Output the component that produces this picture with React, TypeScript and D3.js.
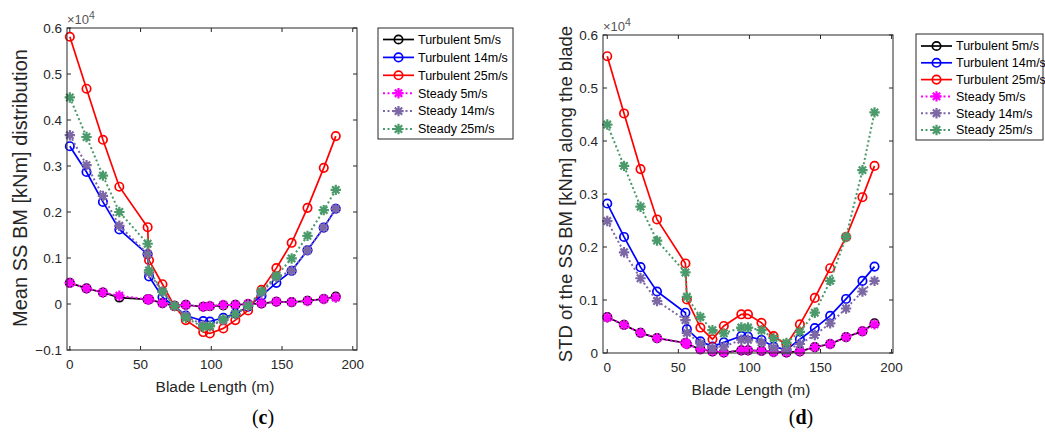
import React from 'react';
import * as d3 from 'd3';

// Blade stations (m)
const bladeX = [0, 11.8, 23.4, 35, 55, 56, 65.5, 74, 82, 94.3, 99, 108.5, 117, 126, 135.5, 146, 156.8, 168, 179.5, 188];

// (c) Mean SS BM (x1e4 kNm)
const meanT5 = [0.046, 0.034, 0.025, 0.014, 0.010, 0.010, 0.002, -0.004, -0.002, -0.006, -0.005, -0.003, -0.002, 0.000, 0.001, 0.005, 0.004, 0.007, 0.011, 0.016];
const meanT14 = [0.343, 0.287, 0.222, 0.162, 0.108, 0.060, 0.015, -0.005, -0.025, -0.037, -0.038, -0.030, -0.021, -0.006, 0.018, 0.046, 0.072, 0.117, 0.166, 0.207];
const meanT25 = [0.581, 0.468, 0.357, 0.255, 0.167, 0.095, 0.043, -0.005, -0.035, -0.061, -0.064, -0.053, -0.035, -0.014, 0.031, 0.078, 0.133, 0.209, 0.296, 0.365];
const meanS5 = [0.046, 0.034, 0.025, 0.018, 0.010, 0.010, 0.002, -0.004, -0.002, -0.006, -0.004, -0.002, -0.002, 0.000, 0.0015, 0.005, 0.004, 0.0065, 0.011, 0.014];
const meanS14 = [0.367, 0.302, 0.235, 0.170, 0.109, 0.068, 0.027, -0.004, -0.026, -0.046, -0.048, -0.035, -0.022, -0.004, 0.025, 0.058, 0.072, 0.117, 0.166, 0.207];
const meanS25 = [0.449, 0.363, 0.279, 0.200, 0.131, 0.073, 0.027, -0.004, -0.030, -0.050, -0.048, -0.033, -0.022, -0.004, 0.028, 0.061, 0.099, 0.148, 0.204, 0.248];

// (d) STD of SS BM (x1e4 kNm)
const stdT5 = [0.068, 0.053, 0.038, 0.028, 0.019, 0.017, 0.007, 0.003, 0.001, 0.005, 0.005, 0.004, 0.002, 0.001, 0.003, 0.011, 0.017, 0.030, 0.041, 0.056];
const stdT14 = [0.282, 0.219, 0.162, 0.116, 0.076, 0.045, 0.022, 0.012, 0.020, 0.032, 0.031, 0.025, 0.012, 0.006, 0.026, 0.047, 0.070, 0.102, 0.136, 0.163];
const stdT25 = [0.560, 0.452, 0.347, 0.252, 0.169, 0.101, 0.048, 0.026, 0.051, 0.073, 0.073, 0.057, 0.032, 0.016, 0.054, 0.104, 0.160, 0.219, 0.294, 0.353];
const stdS5 = [0.067, 0.053, 0.038, 0.028, 0.019, 0.017, 0.007, 0.003, 0.001, 0.005, 0.005, 0.004, 0.002, 0.001, 0.003, 0.011, 0.017, 0.030, 0.041, 0.054];
const stdS14 = [0.249, 0.190, 0.141, 0.098, 0.062, 0.038, 0.018, 0.009, 0.012, 0.025, 0.025, 0.020, 0.010, 0.005, 0.017, 0.034, 0.056, 0.084, 0.116, 0.136];
const stdS25 = [0.431, 0.353, 0.276, 0.212, 0.152, 0.106, 0.068, 0.043, 0.037, 0.048, 0.048, 0.043, 0.028, 0.019, 0.040, 0.076, 0.136, 0.219, 0.345, 0.454];

const seriesNames = ['Turbulent 5m/s', 'Turbulent 14m/s', 'Turbulent 25m/s', 'Steady 5m/s', 'Steady 14m/s', 'Steady 25m/s'];
const seriesColors = ['#000000', '#0000ff', '#ff0000', '#ff00ff', '#7d68a6', '#4b9a6b'];
const seriesKinds = ['turb', 'turb', 'turb', 'steady', 'steady', 'steady'];

const xTicks = [0, 50, 100, 150, 200];
const meanTicks = [-0.1, 0, 0.1, 0.2, 0.3, 0.4, 0.5, 0.6];
const stdTicks = [0, 0.1, 0.2, 0.3, 0.4, 0.5, 0.6];

const AXC = '#262626';
const SANS = 'Arial, "Liberation Sans", Helvetica, sans-serif';

function Marker({ kind, color, x, y }: { kind: string; color: string; x: number; y: number }) {
  if (kind === 'turb') {
    return <circle cx={x} cy={y} r={4.2} fill="none" stroke={color} strokeWidth={1.7} />;
  }
  const r = 5.2;
  const a = r * 0.707;
  const d = `M${-r},0H${r}M0,${-r}V${r}M${-a},${-a}L${a},${a}M${-a},${a}L${a},${-a}`;
  return <path d={d} transform={`translate(${x},${y})`} stroke={color} strokeWidth={2.2} fill="none" />;
}

function Chart(props: {
  left: number; right: number; top: number; bottom: number;
  xDomain: [number, number]; yDomain: [number, number]; yTicks: number[];
  data: number[][]; ylabel: string; ylabelX: number; ylabelY: number; ylabelSize: number;
  tag: string; tagX: number;
  legX: number; legY: number; legW: number; legH: number; legRow0: number; legStep: number;
}) {
  const { left, right, top, bottom } = props;
  const xs = d3.scaleLinear().domain(props.xDomain).range([left, right]);
  const ys = d3.scaleLinear().domain(props.yDomain).range([bottom, top]);
  const tl = 4;
  return (
    <g>
      <rect x={left} y={top} width={right - left} height={bottom - top} fill="#fff" />
      {props.data.map((vals, si) => {
        const pts = vals.map((v, i) => [xs(bladeX[i]), ys(v)] as [number, number]);
        const line = d3.line()(pts) || '';
        const kind = seriesKinds[si];
        return (
          <g key={si}>
            <path d={line} fill="none" stroke={seriesColors[si]} strokeWidth={kind === 'turb' ? 1.7 : 2}
              strokeDasharray={kind === 'turb' ? undefined : '2,2.5'} />
            {pts.map((p, i) => <Marker key={i} kind={kind} color={seriesColors[si]} x={p[0]} y={p[1]} />)}
          </g>
        );
      })}
      <rect x={left} y={top} width={right - left} height={bottom - top} fill="none" stroke={AXC} strokeWidth={1} />
      {xTicks.map(t => (
        <g key={'x' + t}>
          <line x1={xs(t)} x2={xs(t)} y1={bottom} y2={bottom - tl} stroke={AXC} />
          <line x1={xs(t)} x2={xs(t)} y1={top} y2={top + tl} stroke={AXC} />
          <text x={xs(t)} y={bottom + 19} textAnchor="middle" fontSize={13.5} fill={AXC} fontFamily={SANS}>{t}</text>
        </g>
      ))}
      {props.yTicks.map(t => (
        <g key={'y' + t}>
          <line x1={left} x2={left + tl} y1={ys(t)} y2={ys(t)} stroke={AXC} />
          <line x1={right} x2={right - tl} y1={ys(t)} y2={ys(t)} stroke={AXC} />
          <text x={left - 5} y={ys(t) + 4.5} textAnchor="end" fontSize={13.5} fill={AXC} fontFamily={SANS}>{t === 0 ? '0' : d3.format('.1f')(t)}</text>
        </g>
      ))}
      <text x={left} y={top - 4} fontSize={13} fill="#555" fontFamily={SANS}>×10<tspan dy={-5} fontSize={10.5}>4</tspan></text>
      <text x={(left + right) / 2 + 3} y={bottom + 42} textAnchor="middle" fontSize={15.5} fill={AXC} fontFamily={SANS}>Blade Length (m)</text>
      <text transform={`translate(${props.ylabelX},${props.ylabelY}) rotate(-90)`} textAnchor="middle" fontSize={props.ylabelSize} fill={AXC} fontFamily={SANS}>{props.ylabel}</text>
      <text x={props.tagX} y={424} textAnchor="middle" fontSize={20} fontFamily='"Liberation Serif", "DejaVu Serif", serif' fill="#000">(<tspan fontWeight="bold">{props.tag}</tspan>)</text>
      <g>
        <rect x={props.legX} y={props.legY} width={props.legW} height={props.legH} fill="#fff" stroke={AXC} strokeWidth={1} />
        {seriesNames.map((name, i) => {
          const y = props.legRow0 + i * props.legStep;
          const x0 = props.legX + 5;
          const kind = seriesKinds[i];
          return (
            <g key={name}>
              <line x1={x0} x2={x0 + 31} y1={y} y2={y} stroke={seriesColors[i]} strokeWidth={kind === 'turb' ? 1.7 : 2}
                strokeDasharray={kind === 'turb' ? undefined : '2,2.5'} />
              <Marker kind={kind} color={seriesColors[i]} x={x0 + 15.5} y={y} />
              <text x={x0 + 35} y={y + 4.3} fontSize={12.5} fill="#000" fontFamily={SANS}>{name}</text>
            </g>
          );
        })}
      </g>
    </g>
  );
}

export default function App() {
  return (
    <svg width={1045} height={435} style={{ position: 'absolute', left: 0, top: 0, background: '#fff' }}>
      <rect x={0} y={0} width={1045} height={435} fill="#fff" />
      <Chart left={67} right={357} top={28} bottom={350} xDomain={[-2, 203]} yDomain={[-0.1, 0.6]} yTicks={meanTicks}
        data={[meanT5, meanT14, meanT25, meanS5, meanS14, meanS25]}
        ylabel="Mean SS BM [kNm] distribution" ylabelX={27} ylabelY={188} ylabelSize={20}
        tag="c" tagX={263}
        legX={378} legY={28} legW={135} legH={111} legRow0={39.5} legStep={17.9} />
      <Chart left={603} right={893} top={35} bottom={353} xDomain={[-3, 201]} yDomain={[0, 0.6]} yTicks={stdTicks}
        data={[stdT5, stdT14, stdT25, stdS5, stdS14, stdS25]}
        ylabel="STD of the SS BM [kNm] along the blade" ylabelX={572} ylabelY={194} ylabelSize={18.5}
        tag="d" tagX={801}
        legX={916} legY={34} legW={127} legH={106} legRow0={46} legStep={16.8} />
    </svg>
  );
}
